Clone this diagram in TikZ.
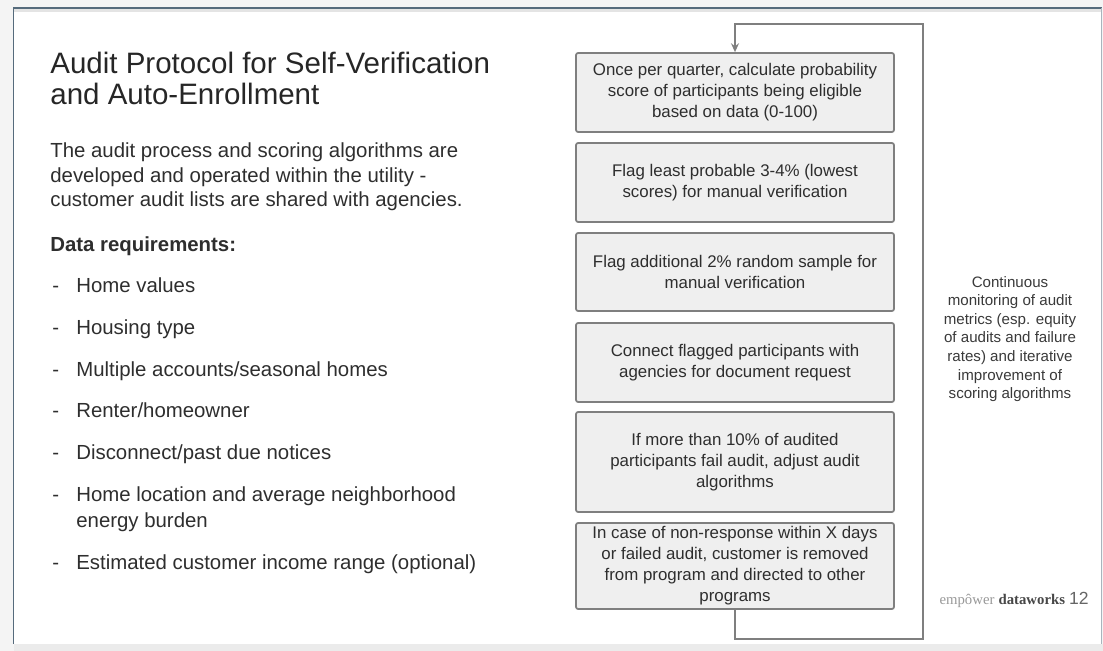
\documentclass[tikz,border=0pt]{standalone}
\usepackage{fontspec}
\setmainfont{Liberation Sans}
\newfontfamily\logofont{Liberation Serif}
\usetikzlibrary{arrows.meta}
\definecolor{pagegray}{HTML}{F4F4F4}
\definecolor{stripgray}{HTML}{EBEBEB}
\definecolor{shadowgray}{HTML}{E4E4E4}
\definecolor{slideedge}{HTML}{566B7C}
\definecolor{rightedge}{HTML}{A9B4BD}
\definecolor{boxfill}{HTML}{EFEFEF}
\definecolor{boxedge}{HTML}{7F7F7F}
\definecolor{bodytext}{HTML}{2E2E2E}
\definecolor{notetext}{HTML}{3A3A3A}

\begin{document}
\begin{tikzpicture}[x=0.02cm, y=-0.02cm,
    stepbox/.style={draw=boxedge, fill=boxfill, line width=1pt, rounded corners=1.2pt,
      minimum width=6.36cm, inner sep=0pt, align=center, text=bodytext,
      font=\fontsize{9.6}{11.9}\selectfont},
    flowline/.style={draw=boxedge, line width=1.1pt},
    bodyline/.style={anchor=base west, inner sep=0pt, text=bodytext,
      font=\fontsize{11.6}{14}\selectfont}]
  %%%%% SLIDE %%%%%
  \useasboundingbox (0,0) rectangle (1103,651);
  \fill[pagegray] (0,0) rectangle (1103,651);
  \fill[white] (14,8) rectangle (1101,644);
  \fill[shadowgray] (14,9) rectangle (1101,12);
  \fill[stripgray] (14,644) rectangle (1103,651);
  \draw[slideedge, line width=1.4pt] (13,8) -- (1102,8);
  \draw[slideedge, line width=0.6pt] (13.5,8) -- (13.5,644);
  \draw[rightedge, line width=0.6pt] (1101.5,8) -- (1101.5,644);

  %%%%% LEFT TEXT %%%%%
  \node[bodyline, text=black!85, font=\fontsize{16.8}{18}\selectfont] (title1) at (50,74) {Audit Protocol for Self-Verification};
  \node[bodyline, text=black!85, font=\fontsize{16.8}{18}\selectfont] (title2) at (50,105) {and Auto-Enrollment};

  \node[bodyline] (intro1) at (50,158) {The audit process and scoring algorithms are};
  \node[bodyline] (intro2) at (50,182.5) {developed and operated within the utility -};
  \node[bodyline] (intro3) at (50,207) {customer audit lists are shared with agencies.};

  \node[bodyline, font=\fontsize{11.6}{14}\selectfont\bfseries] (datahead) at (50,252) {Data requirements:};

  \foreach \y/\txt [count=\n] in {293/Home values, 335/Housing type,
      377/Multiple accounts\slash seasonal homes, 418/Renter\slash homeowner,
      460/Disconnect\slash past due notices, 502/Home location and average neighborhood,
      570/Estimated customer income range (optional)} {
    \node[bodyline] (dash\n) at (52,\y) {-};
    \node[bodyline] (item\n) at (76,\y) {\txt};
  }
  \node[bodyline] (item6b) at (76,528) {energy burden};

  %%%%% PROCESS BOXES %%%%%
  \node[stepbox, minimum height=1.58cm] (s1) at (735,92.5) {Once per quarter, calculate probability\\score of participants being eligible\\based on data (0-100)};
  \node[stepbox, minimum height=1.58cm] (s2) at (735,182.5) {Flag least probable 3-4\% (lowest\\scores) for manual verification};
  \node[stepbox, minimum height=1.56cm] (s3) at (735,272) {Flag additional 2\% random sample for\\manual verification};
  \node[stepbox, minimum height=1.58cm] (s4) at (735,362.5) {Connect flagged participants with\\agencies for document request};
  \node[stepbox, minimum height=2.0cm] (s5) at (735,462) {If more than 10\% of audited\\participants fail audit, adjust audit\\algorithms};
  \node[stepbox, minimum height=1.72cm] (s6) at (735,566) {In case of non-response within X days\\or failed audit, customer is removed\\from program and directed to other\\programs};

  % feedback loop
  \coordinate (loopbr) at (923,639);
  \coordinate (looptr) at (923,24);
  \draw[flowline, -{Stealth[length=5pt, width=4.5pt]}] (s6.south) |- (loopbr) -- (looptr) -| (s1.north);

  \node[align=center, inner sep=0pt, text=notetext, font=\fontsize{8.6}{10.6}\selectfont] (note) at (1010,339)
    {Continuous\\monitoring of audit\\metrics (esp. equity\\of audits and failure\\rates) and iterative\\improvement of\\scoring algorithms};

  %%%%% FOOTER %%%%%
  \node[anchor=base east, inner sep=0pt, font=\fontsize{8.4}{10}\selectfont] (logo) at (1089,605)
    {{\logofont\color{black!40}empôwer} {\logofont\bfseries\color{black!72}dataworks} {\fontsize{10}{12}\selectfont\color{black!60}12}};
\end{tikzpicture}
\end{document}
